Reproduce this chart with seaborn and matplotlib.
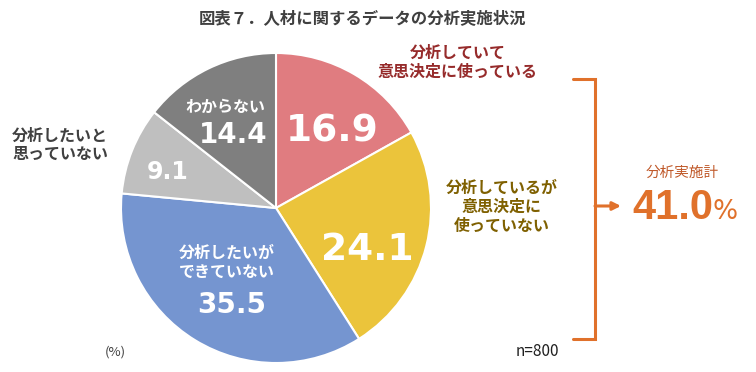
import matplotlib
matplotlib.use("Agg")
import matplotlib.pyplot as plt
import seaborn as sns

# ---- data ----
categories = ["分析していて意思決定に使っている", "分析しているが意思決定に使っていない",
              "分析したいができていない", "分析したいと思っていない", "わからない"]
values = [16.9, 24.1, 35.5, 9.1, 14.4]
value_labels = ["16.9", "24.1", "35.5", "9.1", "14.4"]
total_label = "41.0"
title = "図表７．人材に関するデータの分析実施状況"
n_label = "n=800"

colors = ["#E07C80", "#EBC43B", "#7595D0", "#BFBFBF", "#7F7F7F"]

sns.set_theme(style="white")
plt.rcParams['font.family'] = ['Noto Sans CJK JP', 'DejaVu Sans']

W, H = 756, 372
fig = plt.figure(figsize=(W / 100, H / 100), dpi=100)
ax = fig.add_axes([0, 0, 1, 1])
ax.set_xlim(0, W)
ax.set_ylim(0, H)
ax.set_aspect('equal')
ax.axis('off')

def Y(y):
    return H - y

cx, cy, r = 276, 208, 155
ax.pie(values, colors=colors, startangle=90, counterclock=False,
       center=(cx, Y(cy)), radius=r,
       wedgeprops=dict(edgecolor="white", linewidth=1.5))
ax.set_xlim(0, W)
ax.set_ylim(0, H)

# title
ax.text(362, Y(18), title, ha='center', va='center', fontsize=11.8,
        fontweight='bold', color="#404040")

# values inside slices
ax.text(332, Y(132), value_labels[0], ha='center', va='center', fontsize=27,
        fontweight='bold', color='white', family='DejaVu Sans')
ax.text(367, Y(250), value_labels[1], ha='center', va='center', fontsize=27,
        fontweight='bold', color='white', family='DejaVu Sans')
ax.text(232, Y(305), value_labels[2], ha='center', va='center', fontsize=20,
        fontweight='bold', color='white', family='DejaVu Sans')
ax.text(168, Y(172), value_labels[3], ha='center', va='center', fontsize=17,
        fontweight='bold', color='white', family='DejaVu Sans')
ax.text(233, Y(135), value_labels[4], ha='center', va='center', fontsize=20,
        fontweight='bold', color='white', family='DejaVu Sans')

# category labels
ax.text(227, Y(262), "分析したいが\nできていない", ha='center', va='center',
        fontsize=11.5, fontweight='bold', color='white', linespacing=1.25)
ax.text(225, Y(107), "わからない", ha='center', va='center',
        fontsize=11.5, fontweight='bold', color='white')
ax.text(458, Y(62), "分析していて\n意思決定に使っている", ha='center', va='center',
        fontsize=11.5, fontweight='bold', color="#962B2B", linespacing=1.25)
ax.text(502, Y(207), "分析しているが\n意思決定に\n使っていない", ha='center', va='center',
        fontsize=11.5, fontweight='bold', color="#7F6000", linespacing=1.25)
ax.text(12, Y(145), "分析したいと\n思っていない", ha='left', va='center',
        fontsize=11.5, fontweight='bold', color="#404040", linespacing=1.2)

ax.text(115, Y(352), "(%)", ha='center', va='center', fontsize=9.5, color="#404040")
ax.text(537, Y(352), n_label, ha='center', va='center', fontsize=11, color="#202020")

# bracket & arrow
orange = "#E0712B"
ax.plot([573, 595, 595, 573], [Y(79), Y(79), Y(339), Y(339)], color=orange,
        linewidth=2.2, solid_joinstyle='miter')
ax.annotate("", xy=(621, Y(206)), xytext=(595, Y(206)),
            arrowprops=dict(arrowstyle="-|>", color=orange, lw=2.2,
                            mutation_scale=12, shrinkA=0, shrinkB=0))

ax.text(682, Y(173), "分析実施計", ha='center', va='center', fontsize=10.5,
        color="#C0592A")
ax.text(673, Y(208), total_label, ha='center', va='center', fontsize=30,
        fontweight='bold', color=orange, family='Liberation Sans')
ax.text(712, Y(212), "%", ha='left', va='center', fontsize=19,
        color=orange, family='DejaVu Sans')

fig.savefig("out.png", dpi=100)
